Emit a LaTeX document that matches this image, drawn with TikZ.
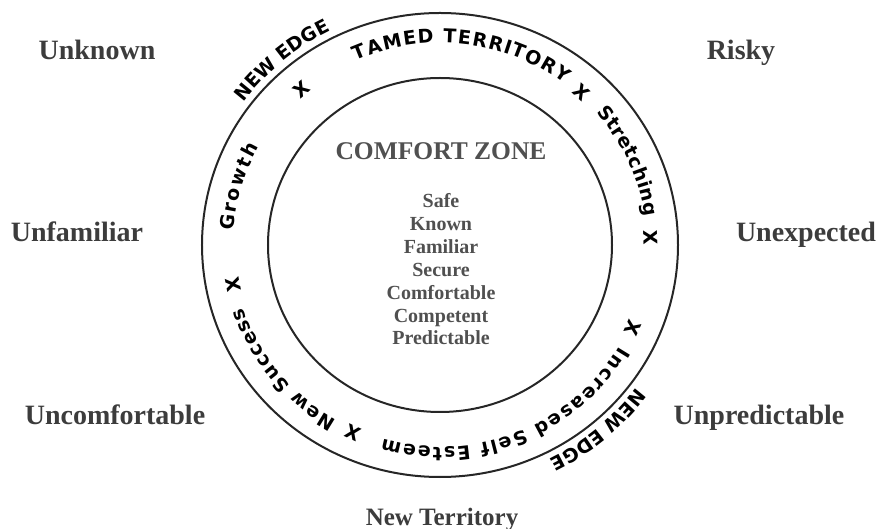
\documentclass[tikz,border=0pt]{standalone}
\usepackage{fontspec}
\setmainfont{Liberation Serif}
\newfontfamily\ringfont{DejaVu Sans}
\usetikzlibrary{decorations.text}
\newcommand{\ringtype}{\ringfont\bfseries\fontsize{19}{19}\selectfont}
\definecolor{labelgray}{HTML}{3C3C3C}
\definecolor{zonegray}{HTML}{505050}

\begin{document}
\begin{tikzpicture}[x=1pt, y=1pt,
	side/.style={font=\bfseries\fontsize{28}{30}\selectfont, text=labelgray, anchor=base, inner sep=0pt},
	quality/.style={font=\bfseries\fontsize{20}{22}\selectfont, text=zonegray, anchor=base, inner sep=0pt},
	ring/.style={decorate, decoration={text along path, text align={fit to path}}},
	edge/.style={decorate, decoration={text along path, text align={center}}},
	cross/.style={font=\ringtype, inner sep=0pt}]
	\useasboundingbox (-440,-284) rectangle (440,245);
	% zones
	\draw[line width=2pt, black!85] (0,0) ellipse [x radius=238, y radius=232];
	\draw[line width=2pt, black!85] (0,0) ellipse [x radius=172, y radius=167];
	% comfort zone
	\node[quality, font=\bfseries\fontsize{25.5}{28}\selectfont] (zone) at (1,85) {COMFORT ZONE};
	\foreach \w [count=\i] in {Safe,Known,Familiar,Secure,Comfortable,Competent,Predictable}
		\node[quality] (q\i) at (1,{37-22.83*(\i-1)}) {\w};
	% text round the ring
	\path[ring, decoration={text={|\ringtype|TAMED TERRITORY}}] (114:207 and 202) arc[start angle=114, end angle=53, x radius=207, y radius=202];
	\path[ring, decoration={text={|\ringtype|Stretching}}] (41:207 and 202) arc[start angle=41, end angle=8, x radius=207, y radius=202];
	\path[ring, decoration={text={|\ringtype|Increased Self Esteem}}] (-30:207 and 202) arc[start angle=-30, end angle=-106, x radius=207, y radius=202];
	\path[ring, decoration={text={|\ringtype|New Success}}] (-120:207 and 202) arc[start angle=-120, end angle=-162, x radius=207, y radius=202];
	\path[ring, decoration={text={|\ringtype|Growth}}] (176:207 and 202) arc[start angle=176, end angle=151, x radius=207, y radius=202];
	\path[edge, decoration={text={|\ringtype|NEW EDGE}}] (160:245 and 239) arc[start angle=160, end angle=100, x radius=245, y radius=239];
	\path[edge, decoration={text={|\ringtype|NEW EDGE}}] (-20:245 and 239) arc[start angle=-20, end angle=-80, x radius=245, y radius=239];
	\foreach \a [count=\i] in {131,47.7,2,-23.8,-114.4,-169}
		\node[cross, rotate=\a-90] (x\i) at (\a:211 and 206) {X};
	% words round the outside
	\node[side] (unknown) at (-343,185) {Unknown};
	\node[side] (unfamiliar) at (-363,3) {Unfamiliar};
	\node[side] (uncomfortable) at (-325,-180) {Uncomfortable};
	\node[side] (risky) at (301,185) {Risky};
	\node[side] (unexpected) at (366,3) {Unexpected};
	\node[side] (unpredictable) at (319,-180) {Unpredictable};
	\node[side, font=\bfseries\fontsize{25}{27}\selectfont] (newterritory) at (2,-280) {New Territory};
\end{tikzpicture}
\end{document}
